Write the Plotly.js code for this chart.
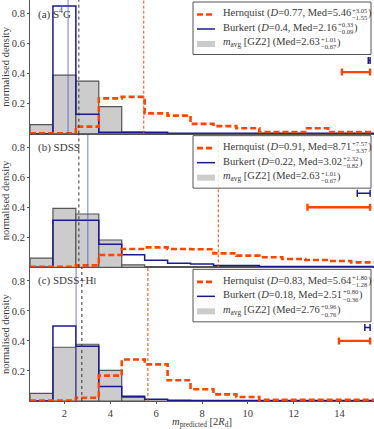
<!DOCTYPE html>
<html>
<head>
<meta charset="utf-8">
<script src="https://cdn.plot.ly/plotly-3.0.1.min.js"></script>
<style>
  html, body { margin: 0; padding: 0; background: #fff; }
  #chart { width: 374px; height: 429px; }
</style>
</head>
<body>
<div id="chart"></div>
<script>
// bin edges of the predicted-m histograms (units of 2 R_d)
const binEdges = [0.5, 1.5, 2.5, 3.5, 4.5, 5.5, 6.5, 7.5, 8.5, 9.5, 10.5, 11.5, 12.5, 13.5, 14.5, 15.5];

// (a) S4G
const gzA  = [0.06, 0.39, 0.35, 0.18, 0.01, 0, 0, 0, 0, 0, 0, 0, 0, 0, 0];
const burA = [0, 0.85, 0.13, 0.01, 0.01, 0.01, 0.002, 0.002, 0.002, 0.002, 0.002, 0.002, 0.002, 0.002, 0.002];
const herA = [0.003, 0.003, 0.047, 0.235, 0.245, 0.135, 0.12, 0.065, 0.05, 0.036, 0.011, 0.011, 0.036, 0.011, 0.011];

// (b) SDSS
const gzB  = [0.062, 0.393, 0.355, 0.182, 0.016, 0, 0, 0, 0, 0, 0, 0, 0, 0, 0];
const burB = [0, 0.313, 0.313, 0.153, 0.084, 0.047, 0.027, 0.022, 0.012, 0.012, 0.005, 0.005, 0.005, 0.005, 0.005];
const herB = [0.004, 0.004, 0.013, 0.082, 0.122, 0.133, 0.122, 0.12, 0.093, 0.078, 0.067, 0.056, 0.049, 0.042, 0.033];

// (c) SDSS+HI
const gzC  = [0.051, 0.358, 0.378, 0.204, 0.024, 0, 0, 0, 0, 0, 0, 0, 0, 0, 0];
const burC = [0, 0.5, 0.365, 0.096, 0.031, 0.011, 0.005, 0.003, 0.003, 0.003, 0.003, 0.003, 0.003, 0.003, 0.003];
const herC = [0.003, 0.003, 0.022, 0.169, 0.276, 0.244, 0.138, 0.078, 0.044, 0.027, 0.008, 0.008, 0.008, 0.008, 0.008];

// medians [Hernquist, Burkert, GZ2]
const medA = [5.46, 2.16, 2.63];
const medB = [8.71, 3.02, 2.63];
const medC = [5.64, 2.51, 2.76];

// typical uncertainty bars: [low, high, level]
const errHerA = [14.1, 15.33, 0.41];
const errBurA = [15.25, 15.33, 0.487];
const errHerB = [12.6, 15.33, 0.40];
const errBurB = [14.77, 15.33, 0.493];
const errHerC = [13.97, 15.33, 0.40];
const errBurC = [15.1, 15.33, 0.49];

// legend rows: [main text, upper script, lower script]
const legA = [
  ["Hernquist (<i>D</i>=0.77, Med=5.46", "+3.05", "−1.55"],
  ["Burkert (<i>D</i>=0.4, Med=2.16", "+0.33", "−0.09"],
  ["<i>m</i><sub>avg</sub> [GZ2] (Med=2.63", "+1.01", "−0.67"]
];
const legB = [
  ["Hernquist (<i>D</i>=0.91, Med=8.71", "+7.57", "−3.37"],
  ["Burkert (<i>D</i>=0.22, Med=3.02", "+2.32", "−0.82"],
  ["<i>m</i><sub>avg</sub> [GZ2] (Med=2.63", "+1.01", "−0.67"]
];
const legC = [
  ["Hernquist (<i>D</i>=0.83, Med=5.64", "+1.80", "−1.28"],
  ["Burkert (<i>D</i>=0.18, Med=2.51", "+0.80", "−0.36"],
  ["<i>m</i><sub>avg</sub> [GZ2] (Med=2.76", "+0.96", "−0.76"]
];

const panelLabels = ["(a) S<sup>4</sup>G", "(b) SDSS", "(c) SDSS+H<span style='font-size:8px'>I</span>"];

const ORANGE = "#ff4500";
const BLUE = "#1a1a8f";
const TXT = "#3a3a3a";
const FONT = "Liberation Serif, DejaVu Serif, serif";
const FS = 10.5, SFS = 6.6;

// plot area in pixels -> paper coords
const PL = 30, PW = 344, PH = 401;
const px = x => (x - PL) / PW;
const py = y => 1 - y / PH;

const ctx = document.createElement("canvas").getContext("2d");
function textWidth(html, size) {
  let w = 0, it = false, sub = false;
  html.split(/(<\/?(?:i|sub|sup)>)/).forEach(tok => {
    if (tok === "<i>") it = true;
    else if (tok === "</i>") it = false;
    else if (tok === "<sub>" || tok === "<sup>") sub = true;
    else if (tok === "</sub>" || tok === "</sup>") sub = false;
    else if (tok) {
      ctx.font = (it ? "italic " : "") + (sub ? size * 0.7 : size) + "px 'Liberation Serif'";
      w += ctx.measureText(tok).width;
    }
  });
  return w;
}

const centers = binEdges.slice(0, -1).map((e, i) => (e + binEdges[i + 1]) / 2);
const stepY = v => v.concat([v[v.length - 1]]);

const panels = [
  { xa: "x3", ya: "y3", top: 0,          gz: gzA, bur: burA, her: herA, med: medA, eh: errHerA, eb: errBurA, leg: legA },
  { xa: "x2", ya: "y2", top: PH / 3,     gz: gzB, bur: burB, her: herB, med: medB, eh: errHerB, eb: errBurB, leg: legB },
  { xa: "x",  ya: "y",  top: 2 * PH / 3, gz: gzC, bur: burC, her: herC, med: medC, eh: errHerC, eb: errBurC, leg: legC }
];

const traces = [];
const shapes = [];
const legendShapes = [];
const annotations = [];

panels.forEach((p, k) => {
  traces.push({
    type: "bar", x: centers, y: p.gz, width: 1, xaxis: p.xa, yaxis: p.ya,
    marker: { color: "#cccccc", line: { color: "#555555", width: 1.2 } }, showlegend: false
  });
  traces.push({
    type: "scatter", mode: "lines", x: binEdges, y: stepY(p.bur), xaxis: p.xa, yaxis: p.ya,
    line: { shape: "hv", color: BLUE, width: 1.5 }, showlegend: false
  });
  traces.push({
    type: "scatter", mode: "lines", x: binEdges, y: stepY(p.her), xaxis: p.xa, yaxis: p.ya,
    line: { shape: "hv", color: ORANGE, width: 2.6, dash: "6px,3px" }, showlegend: false
  });

  [[p.eh, ORANGE, 2.4], [p.eb, BLUE, 1.5]].forEach(([e, col, th]) => {
    const mid = (e[0] + e[1]) / 2, half = (e[1] - e[0]) / 2;
    traces.push({
      type: "scatter", mode: "markers", x: [mid], y: [e[2]], xaxis: p.xa, yaxis: p.ya,
      marker: { size: 0.1, color: col }, showlegend: false, cliponaxis: false,
      error_x: { type: "data", array: [half], color: col, thickness: th, width: 3.5 }
    });
  });

  // median markers
  const yd = p.ya + " domain";
  shapes.push({ type: "line", xref: p.xa, yref: yd, x0: p.med[0], x1: p.med[0], y0: 0, y1: 1,
                line: { color: ORANGE, width: 1, dash: "3px,2px" } });
  shapes.push({ type: "line", xref: p.xa, yref: yd, x0: p.med[1], x1: p.med[1], y0: 0, y1: 1,
                line: { color: "rgba(70,70,200,0.55)", width: 1.3 } });
  shapes.push({ type: "line", xref: p.xa, yref: yd, x0: p.med[2], x1: p.med[2], y0: 0, y1: 1,
                line: { color: "#333", width: 1, dash: "dot" } });

  // legend box
  const t = p.top;
  legendShapes.push({ type: "rect", xref: "paper", yref: "paper",
    x0: px(193), x1: px(371), y0: py(t + 54.5), y1: py(t + 2),
    line: { color: "#555", width: 1 }, fillcolor: "rgba(255,255,255,0.85)" });
  legendShapes.push({ type: "line", xref: "paper", yref: "paper",
    x0: px(197), x1: px(215), y0: py(t + 14.5), y1: py(t + 14.5),
    line: { color: ORANGE, width: 2.6, dash: "6px,3px" } });
  legendShapes.push({ type: "line", xref: "paper", yref: "paper",
    x0: px(197), x1: px(215), y0: py(t + 29), y1: py(t + 29),
    line: { color: BLUE, width: 1.5 } });
  legendShapes.push({ type: "rect", xref: "paper", yref: "paper",
    x0: px(197), x1: px(215), y0: py(t + 47), y1: py(t + 41),
    line: { width: 0 }, fillcolor: "#cccccc" });

  const rowY = [13.5, 28, 43];
  p.leg.forEach((row, i) => {
    const yc = t + rowY[i];
    const x0 = 223;
    const xs = x0 + textWidth(row[0], FS) + 1;
    const ws = Math.max(textWidth(row[1], SFS), textWidth(row[2], SFS));
    const base = { xref: "paper", yref: "paper", showarrow: false, yanchor: "middle", xanchor: "left",
                   borderpad: 0, borderwidth: 0 };
    annotations.push(Object.assign({}, base, { text: row[0], x: px(x0), y: py(yc),
      font: { size: FS, color: TXT, family: FONT } }));
    annotations.push(Object.assign({}, base, { text: row[1], x: px(xs), y: py(yc - 3.5),
      font: { size: SFS, color: TXT, family: FONT } }));
    annotations.push(Object.assign({}, base, { text: row[2], x: px(xs), y: py(yc + 3.8),
      font: { size: SFS, color: TXT, family: FONT } }));
    annotations.push(Object.assign({}, base, { text: ")", x: px(xs + ws + 0.8), y: py(yc),
      font: { size: FS, color: TXT, family: FONT } }));
  });

  annotations.push({ text: panelLabels[k], xref: "paper", yref: "paper", x: px(38), y: py(t + 13.5),
    showarrow: false, xanchor: "left", yanchor: "middle", borderpad: 0, borderwidth: 0,
    font: { size: 11, color: TXT, family: FONT } });
});

const yax = dom => ({
  domain: dom, range: [0, 0.89], tickvals: [0.2, 0.4, 0.6, 0.8], ticktext: ["0.2", "0.4", "0.6", "0.8"],
  ticks: "outside", ticklen: 2, tickcolor: "#555", showline: true, linecolor: "#555", linewidth: 1,
  showgrid: false, zeroline: false, tickfont: { size: 10.5, color: TXT },
  title: { text: "normalised density", font: { size: 10.5, color: TXT }, standoff: 4 }
});
const xax = (bottom, anchor) => ({
  range: [0.5, 15.5], anchor: anchor, showline: true, mirror: true, linecolor: "#555", linewidth: 1,
  showgrid: false, zeroline: false, tickvals: [2, 4, 6, 8, 10, 12, 14],
  ticks: bottom ? "outside" : "", ticklen: 2, tickcolor: "#555",
  showticklabels: bottom, tickfont: { size: 10.5, color: TXT },
  title: bottom ? { text: "<i>m</i><sub>predicted</sub> [2<i>R</i><sub>d</sub>]", font: { size: 10.5, color: TXT }, standoff: 2 } : undefined
});

const layout = {
  width: 374, height: 429,
  margin: { l: 30, r: 0, t: 0, b: 28 },
  paper_bgcolor: "#fff", plot_bgcolor: "#fff",
  font: { family: FONT, color: TXT },
  showlegend: false,
  xaxis: xax(true, "y"),
  xaxis2: Object.assign(xax(false, "y2"), { matches: "x" }),
  xaxis3: Object.assign(xax(false, "y3"), { matches: "x" }),
  yaxis: yax([0, 1 / 3]),
  yaxis2: yax([1 / 3, 2 / 3]),
  yaxis3: yax([2 / 3, 1]),
  bargap: 0,
  shapes: shapes.concat(legendShapes),
  annotations: annotations
};

Plotly.newPlot("chart", traces, layout, { displayModeBar: false, staticPlot: true });
</script>
</body>
</html>
